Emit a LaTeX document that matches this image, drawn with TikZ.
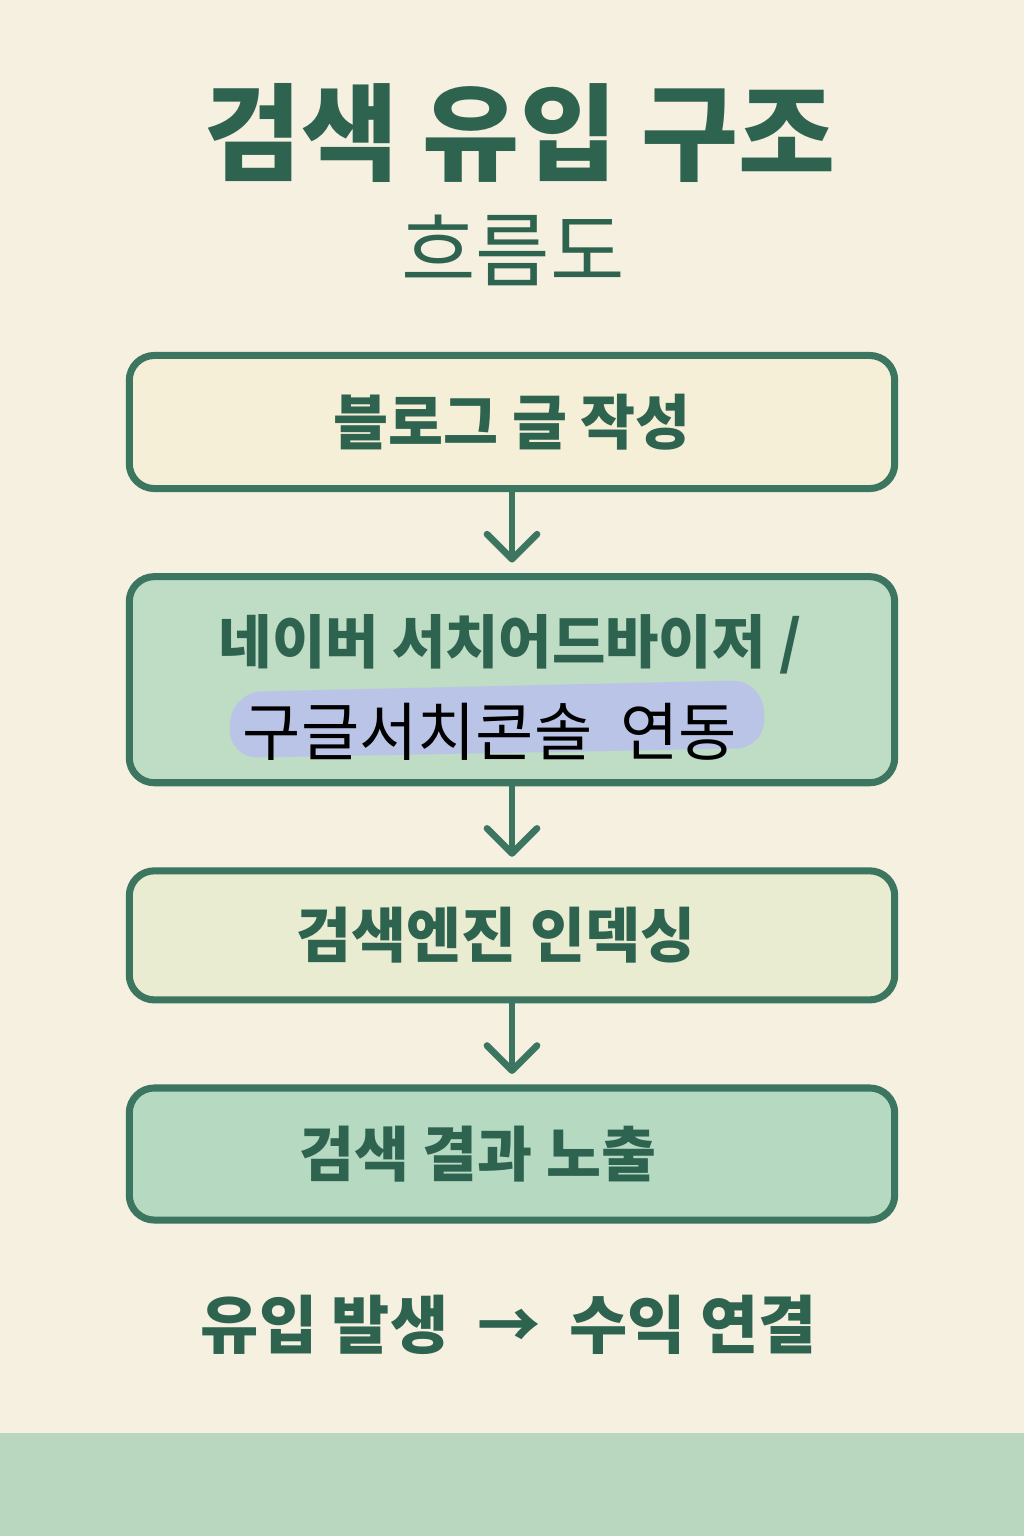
\documentclass[tikz,border=0pt]{standalone}
\usepackage{fontspec}
\setmainfont{Noto Sans CJK KR}
\usetikzlibrary{arrows.meta, positioning}
\definecolor{bgcream}{HTML}{F5F0E0}
\definecolor{edgegreen}{HTML}{3C7560}
\definecolor{inkgreen}{HTML}{2E6350}
\definecolor{fillcream}{HTML}{F6EFD8}
\definecolor{fillmint}{HTML}{BFDCC4}
\definecolor{fillpale}{HTML}{E9ECD1}
\definecolor{fillsea}{HTML}{B6D9C2}
\definecolor{bandgreen}{HTML}{B9D6BF}
\definecolor{marker}{HTML}{BAC4E7}
\tikzset{
    stepbox/.style={rectangle, draw=edgegreen, line width=2pt, rounded corners=0.25cm, minimum width=7.65cm, align=center, text=inkgreen, font=\bfseries\fontsize{17}{20}\selectfont},
    heading/.style={text=inkgreen, font=\bfseries\fontsize{30}{34}\selectfont},
    subheading/.style={text=inkgreen, font=\fontsize{23}{26}\selectfont},
    boxtext/.style={text=inkgreen, font=\bfseries\fontsize{16.5}{20}\selectfont},
    plaintext/.style={text=black, font=\fontsize{18}{21}\selectfont},
    flow/.style={-{Straight Barb[length=0.25cm, width=0.5cm, round]}, draw=edgegreen, line width=1.9pt, shorten >=3pt}
}
\begin{document}
\begin{tikzpicture}[x=0.01cm, y=-0.01cm, node distance=0.81cm]
    % page and bottom band
    \fill[bgcream] (0,0) rectangle (1024,1536);
    \useasboundingbox (0,0) rectangle (1024,1536);
    \fill[bandgreen] (0,1433) rectangle (1024,1536);

    % title
    \node[heading] (title) at (520,133) {검색 유입 구조};
    \node[subheading] (subtitle) at (513,250) {흐름도};

    % steps
    \node[stepbox, fill=fillcream, minimum height=1.33cm] (write) at (512,422) {블로그 글 작성};
    \node[stepbox, fill=fillmint, minimum height=2.06cm, below=of write] (connect) {};
    \node[stepbox, fill=fillpale, minimum height=1.29cm, below=of connect] (index) {검색엔진 인덱싱\hspace{0.32cm}};
    \node[stepbox, fill=fillsea, minimum height=1.32cm, below=of index] (expose) {검색 결과 노출\hspace{0.68cm}};

    % text of the second step
    \fill[marker, rounded corners=0.3cm] (232,692) -- (762,680) -- (766,748) -- (228,758) -- cycle;
    \node[boxtext] (naver) at ([xshift=-0.02cm, yshift=0.355cm]connect.center) {네이버 서치어드바이저 /};
    \node[plaintext] (google) at ([xshift=-0.22cm, yshift=-0.525cm]connect.center) {구글서치콘솔\ \ 연동};

    % arrows
    \draw[flow] (write) -- (connect);
    \draw[flow] (connect) -- (index);
    \draw[flow] (index) -- (expose);

    % result line
    \node[boxtext, font=\bfseries\fontsize{18}{21}\selectfont] (result) at (509,1325) {유입 발생 \ → \ 수익 연결};
\end{tikzpicture}
\end{document}
